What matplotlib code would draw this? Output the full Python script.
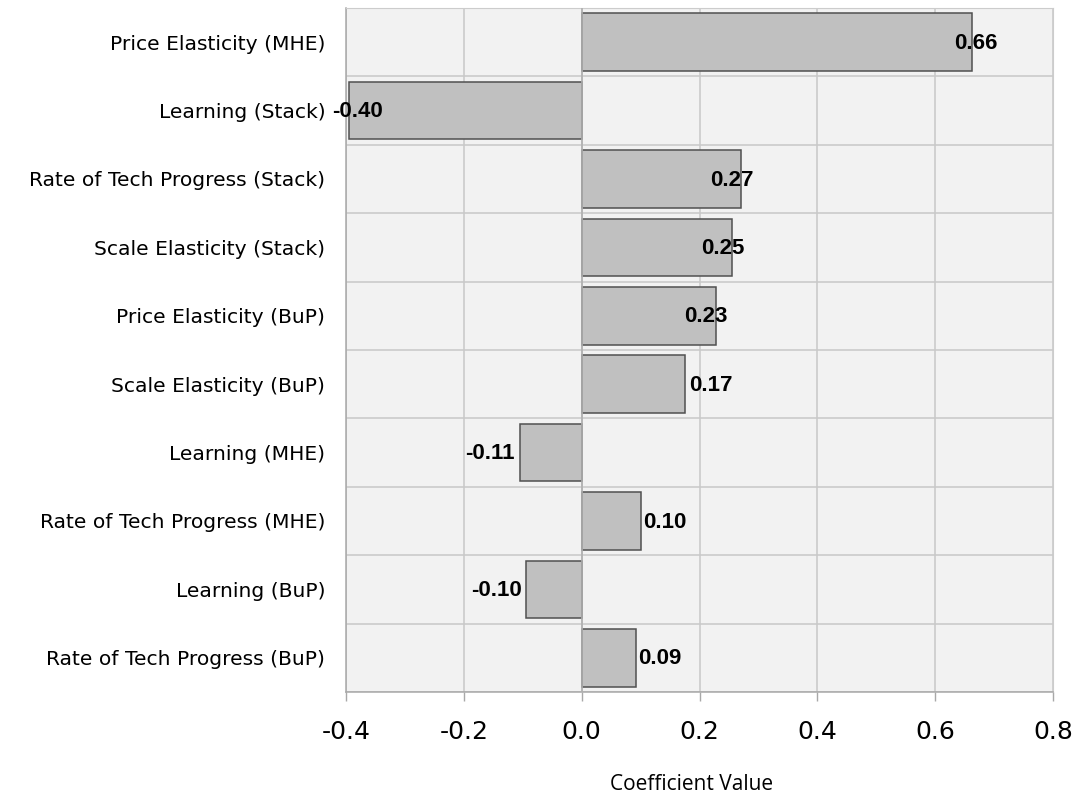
import matplotlib
matplotlib.use("Agg")
import matplotlib.pyplot as plt

# coefficient values, top to bottom
labels = ["Price Elasticity (MHE)", "Learning (Stack)", "Rate of Tech Progress (Stack)",
          "Scale Elasticity (Stack)", "Price Elasticity (BuP)", "Scale Elasticity (BuP)",
          "Learning (MHE)", "Rate of Tech Progress (MHE)", "Learning (BuP)",
          "Rate of Tech Progress (BuP)"]
values = [0.662, -0.395, 0.270, 0.256, 0.228, 0.175, -0.105, 0.101, -0.094, 0.092]
value_text = ["0.66", "-0.40", "0.27", "0.25", "0.23", "0.17", "-0.11", "0.10", "-0.10", "0.09"]
xticks = [-0.4, -0.2, 0.0, 0.2, 0.4, 0.6, 0.8]

# label nudges (pixels) relative to bar end, like the excel layout
nudge_px = [-18, 34, -31, -31, -32, 4, -5, 2, -4, 2]

fig = plt.figure(figsize=(10.86, 7.95), dpi=100)
ax = fig.add_axes([346 / 1086, 1 - 692 / 795, (1053 - 346) / 1086, (692 - 8) / 795])
ax.set_facecolor("#f2f2f2")

pos = list(range(len(labels)))
ax.barh(pos, values, height=0.84, color="#c0c0c0", edgecolor="#505050", linewidth=1.1, zorder=3)

ax.set_xlim(-0.4, 0.8)
ax.set_ylim(len(labels) - 0.5, -0.5)
ax.set_xticks(xticks)
ax.set_xticklabels(["%.1f" % t for t in xticks], fontsize=18, family="DejaVu Sans")
ax.set_yticks(pos)
ax.set_yticklabels(labels, fontsize=14.6, family="DejaVu Sans")
ax.tick_params(axis="y", length=0, pad=15)
ax.tick_params(axis="x", length=6.5, width=1, color="#a8a8a8", pad=14, direction="out")

# grid: vertical at ticks, horizontal at band boundaries
for t in xticks:
    ax.axvline(t, color="#c8c8c8", lw=1.1, zorder=1)
for b in range(len(labels) + 1):
    ax.axhline(b - 0.5, color="#c8c8c8", lw=1.1, zorder=1)
ax.axvline(0, color="#b0b0b0", lw=1.2, zorder=4)

for side in ["top", "right"]:
    ax.spines[side].set_color("#cccccc")
for side in ["left", "bottom"]:
    ax.spines[side].set_color("#a8a8a8")
    ax.spines[side].set_linewidth(1.1)

for i, v in enumerate(values):
    ha = "left" if v >= 0 else "right"
    ax.annotate(value_text[i], xy=(v, i), xytext=(nudge_px[i] * 0.72, -0.8),
                textcoords="offset points", ha=ha, va="center",
                fontsize=16, fontweight="bold", family="Liberation Sans", zorder=5)

ax.set_xlabel("Coefficient Value", fontsize=15, family="Open Sans", labelpad=20)
ax.xaxis.set_label_coords((692 - 346) / (1053 - 346), -(785 - 692) / (692 - 8))
ax.xaxis.label.set_va("center")

fig.savefig("out.png", dpi=100)
